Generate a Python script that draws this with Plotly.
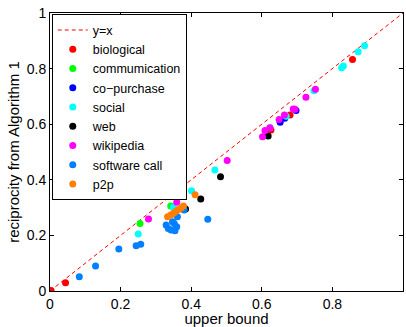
import plotly.graph_objects as go

# ---- data ----
bio_x = [0.003, 0.044, 0.626, 0.680, 0.857]
bio_y = [0.002, 0.030, 0.579, 0.633, 0.833]

comm_x = [0.255, 0.342]
comm_y = [0.243, 0.306]

copur_x = [0.652, 0.665, 0.697]
copur_y = [0.607, 0.621, 0.649]

social_x = [0.250, 0.349, 0.401, 0.467, 0.623, 0.669, 0.748, 0.826, 0.831, 0.873, 0.891]
social_y = [0.205, 0.300, 0.361, 0.435, 0.587, 0.629, 0.720, 0.803, 0.809, 0.861, 0.882]

web_x = [0.384, 0.427, 0.483, 0.618]
web_y = [0.295, 0.331, 0.411, 0.558]

wiki_x = [0.279, 0.359, 0.502, 0.602, 0.609, 0.623, 0.649, 0.664, 0.689, 0.694, 0.725, 0.752]
wiki_y = [0.259, 0.319, 0.469, 0.555, 0.577, 0.587, 0.617, 0.633, 0.655, 0.654, 0.697, 0.726]

soft_x = [0.083, 0.129, 0.195, 0.244, 0.257, 0.329, 0.335, 0.343, 0.354, 0.359, 0.352,
          0.347, 0.361, 0.380, 0.447]
soft_y = [0.051, 0.090, 0.151, 0.163, 0.168, 0.237, 0.225, 0.219, 0.217, 0.231, 0.243,
          0.249, 0.267, 0.291, 0.258]

p2p_x = [0.333, 0.342, 0.350, 0.357, 0.364, 0.371, 0.378, 0.411]
p2p_y = [0.267, 0.273, 0.280, 0.287, 0.293, 0.299, 0.306, 0.346]

diag = [0, 1]

x_ticks = [0, 0.2, 0.4, 0.6, 0.8, 1]
tick_text = ["0", "0.2", "0.4", "0.6", "0.8", "1"]

series = [
    ("biological", bio_x, bio_y, "#FF0000"),
    ("commumication", comm_x, comm_y, "#00FF00"),
    ("co\u2212purchase", copur_x, copur_y, "#0000FF"),
    ("social", social_x, social_y, "#00FFFF"),
    ("web", web_x, web_y, "#000000"),
    ("wikipedia", wiki_x, wiki_y, "#FF00FF"),
    ("software call", soft_x, soft_y, "#0080FF"),
    ("p2p", p2p_x, p2p_y, "#FF8000"),
]

FONT = "Liberation Sans, Arial, sans-serif"

fig = go.Figure()
fig.add_trace(go.Scatter(x=diag, y=diag, mode="lines", name="y=x",
                         line=dict(color="#FF0000", width=1, dash="4px,3px")))
for name, xs, ys, col in series:
    fig.add_trace(go.Scatter(x=xs, y=ys, mode="markers", name=name,
                             marker=dict(color=col, size=7, line=dict(width=0))))

axis_common = dict(
    range=[0, 1], tickvals=x_ticks, ticktext=tick_text,
    ticks="inside", ticklen=4, tickcolor="black", showline=True, linecolor="black",
    linewidth=1, mirror="ticks", showgrid=False, zeroline=False, automargin=False,
    tickfont=dict(family=FONT, size=14, color="black"),
)

fig.update_layout(
    width=406, height=327,
    margin=dict(l=50, r=3, t=13, b=36),
    paper_bgcolor="white", plot_bgcolor="white",
    font=dict(family=FONT, size=14, color="black"),
    xaxis=dict(title=dict(text="upper bound", standoff=1, font=dict(size=15)), **axis_common),
    yaxis=dict(title=dict(text="reciprocity from Algorithm 1", standoff=3, font=dict(size=15)), **axis_common),
    legend=dict(x=0.005, y=0.995, xanchor="left", yanchor="top",
                bgcolor="white", bordercolor="black", borderwidth=1,
                font=dict(size=12.5), itemwidth=30, tracegroupgap=0),
    showlegend=True,
)

fig.write_html("out.html",
               config={"displayModeBar": False},
               post_script="document.body.style.margin='0px';document.body.style.overflow='hidden';")
